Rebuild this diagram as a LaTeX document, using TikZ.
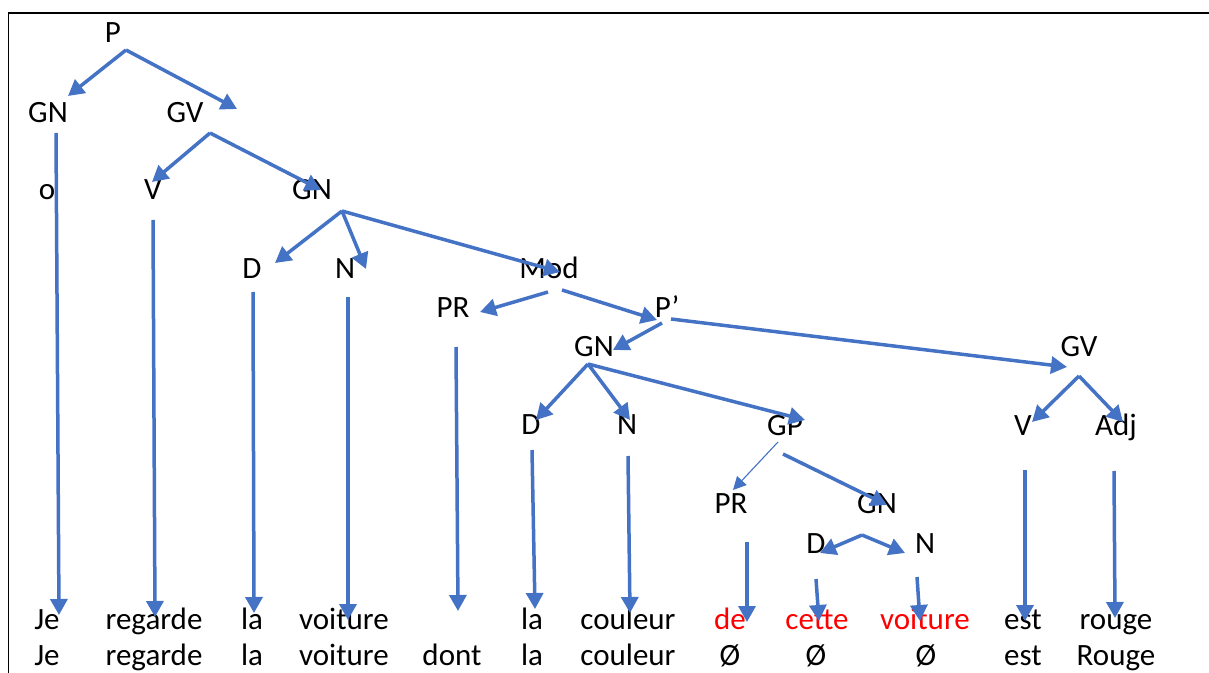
\documentclass[tikz,border=0pt]{standalone}
\usepackage{fontspec}
\setmainfont{Carlito}
\usepackage{tikz}
\usepackage{xcolor}
\usetikzlibrary{
    arrows.meta,
    calc,
    positioning
}
\definecolor{treeblue}{HTML}{4472C4}
\definecolor{wordred}{HTML}{FF0000}
\tikzset{
    lbl/.style={anchor=base, inner sep=0pt, outer sep=0pt, font=\fontsize{15.5}{18}\selectfont},
    redlbl/.style={lbl, text=wordred},
    arr/.style={draw=treeblue, line width=1.75pt, -{Triangle[width=8.5pt,length=8pt]}, treeblue},
    thinarr/.style={draw=treeblue, line width=0.55pt, -{Triangle[width=6.5pt,length=6.5pt]}, treeblue}
}

\begin{document}
\begin{tikzpicture}[x=0.5pt, y=-0.5pt]
    \useasboundingbox (0, 0) rectangle (1209, 673);
    \draw[line width=0.8pt] (8.5, 673) -- (8.5, 13) -- (1209, 13);

    \node[lbl] (P) at (113, 43) {P};
    \node[lbl] (gnA) at (48, 123) {GN};
    \node[lbl] (gvA) at (185, 123) {GV};
    \node[lbl] (o) at (47, 200) {o};
    \node[lbl] (vA) at (153, 200) {V};
    \node[lbl] (gnB) at (312, 200) {GN};
    \node[lbl] (dB) at (252, 279) {D};
    \node[lbl] (nB) at (345, 279) {N};
    \node[lbl] (mod) at (549, 279) {Mod};
    \node[lbl] (prA) at (453, 318) {PR};
    \node[lbl] (pp) at (667, 318) {P’};
    \node[lbl] (gnC) at (594, 357) {GN};
    \node[lbl] (gvB) at (1079, 357) {GV};
    \node[lbl] (dC) at (531, 434) {D};
    \node[lbl] (nC) at (627, 434) {N};
    \node[lbl] (gp) at (785, 435) {GP};
    \node[lbl] (vB) at (1023, 435) {V};
    \node[lbl] (adj) at (1116, 435) {Adj};
    \node[lbl] (prB) at (731, 513) {PR};
    \node[lbl] (gnD) at (877, 513) {GN};
    \node[lbl] (dD) at (816, 553) {D};
    \node[lbl] (nD) at (925, 553) {N};

    \node[lbl] (je) at (47, 629) {Je};
    \node[lbl] (regarde) at (154, 629) {regarde};
    \node[lbl] (la) at (252, 629) {la};
    \node[lbl] (voiture) at (344, 629) {voiture};
    \node[lbl] (laB) at (532, 629) {la};
    \node[lbl] (couleur) at (628, 629) {couleur};
    \node[redlbl] (de) at (730, 629) {de};
    \node[redlbl] (cette) at (817, 629) {cette};
    \node[redlbl] (voitureB) at (925, 629) {voiture};
    \node[lbl] (est) at (1023, 629) {est};
    \node[lbl] (rouge) at (1116, 629) {rouge};

    \node[lbl] (jeR) at (47, 665) {Je};
    \node[lbl] (regardeR) at (154, 665) {regarde};
    \node[lbl] (laR) at (252, 665) {la};
    \node[lbl] (voitureR) at (344, 665) {voiture};
    \node[lbl] (dont) at (452, 665) {dont};
    \node[lbl] (laBR) at (532, 665) {la};
    \node[lbl] (couleurR) at (628, 665) {couleur};
    \node[lbl] (zeroA) at (730, 665) {Ø};
    \node[lbl] (zeroB) at (816, 665) {Ø};
    \node[lbl] (zeroC) at (926, 665) {Ø};
    \node[lbl] (estR) at (1023, 665) {est};
    \node[lbl] (rougeR) at (1116, 665) {Rouge};

    \draw[arr] ($(P.base)+(13,7)$) -- ($(gnA.base)+(20,-27)$);
    \draw[arr] ($(P.base)+(13,7)$) -- ($(gvA.base)+(52,-14)$);
    \draw[arr] ($(gvA.base)+(25,10)$) -- ($(vA.base)+(-1,-18)$);
    \draw[arr] ($(gvA.base)+(25,10)$) -- ($(gnB.base)+(9,-10)$);
    \draw[arr] ($(gnB.base)+(30,11)$) -- ($(dB.base)+(23,-16)$);
    \draw[arr] ($(gnB.base)+(30,11)$) -- ($(nB.base)+(21,-10)$);
    \draw[arr] ($(gnB.base)+(30,11)$) -- ($(mod.base)+(11,-7)$);
    \draw[arr] ($(mod.base)+(-1,13)$) -- ($(prA.base)+(27,-6)$);
    \draw[arr] ($(mod.base)+(13,11)$) -- ($(pp.base)+(-10,2)$);
    \draw[arr] ($(pp.base)+(-5,5)$) -- ($(gnC.base)+(19,-7)$);
    \draw[arr] ($(pp.base)+(4,1)$) -- ($(gvB.base)+(-12,10)$);
    \draw[arr] ($(gnC.base)+(-6,7)$) -- ($(dC.base)+(5,-14)$);
    \draw[arr] ($(gnC.base)+(-6,7)$) -- ($(nC.base)+(3,-14)$);
    \draw[arr] ($(gnC.base)+(-6,7)$) -- ($(gp.base)+(20,-15)$);
    \draw[arr] ($(gvB.base)+(0,19)$) -- ($(vB.base)+(9,-13)$);
    \draw[arr] ($(gvB.base)+(0,19)$) -- ($(adj.base)+(7,-13)$);
    \draw[thinarr] ($(gp.base)+(-7,7)$) -- ($(prB.base)+(2,-23)$);
    \draw[arr] ($(gp.base)+(-2,19)$) -- ($(gnD.base)+(10,-8)$);
    \draw[arr] ($(gnD.base)+(-15,22)$) -- ($(dD.base)+(4,0)$);
    \draw[arr] ($(gnD.base)+(-15,22)$) -- ($(nD.base)+(-20,0)$);

    \draw[arr] ($(gnA.base)+(8,10)$) -- ($(je.base)+(12,-14)$);
    \draw[arr] ($(vA.base)+(0,20)$) -- ($(regarde.base)+(1,-12)$);
    \draw[arr] ($(dB.base)+(1,13)$) -- ($(la.base)+(2,-16)$);
    \draw[arr] ($(nB.base)+(3,18)$) -- ($(voiture.base)+(4,-9)$);
    \draw[arr] ($(prA.base)+(3,29)$) -- ($(dont.base)+(6,-54)$);
    \draw[arr] ($(dC.base)+(1,16)$) -- ($(laB.base)+(3,-20)$);
    \draw[arr] ($(nC.base)+(1,22)$) -- ($(couleur.base)+(2,-16)$);
    \draw[arr] ($(prB.base)+(16,29)$) -- ($(de.base)+(17,-7)$);
    \draw[arr] ($(dD.base)+(0,26)$) -- ($(cette.base)+(2,-8)$);
    \draw[arr] ($(nD.base)+(-8,24)$) -- ($(voitureB.base)+(-5,-8)$);
    \draw[arr] ($(vB.base)+(2,35)$) -- ($(est.base)+(2,-8)$);
    \draw[arr] ($(adj.base)+(-2,36)$) -- ($(rouge.base)+(-1,-11)$);
\end{tikzpicture}
\end{document}
